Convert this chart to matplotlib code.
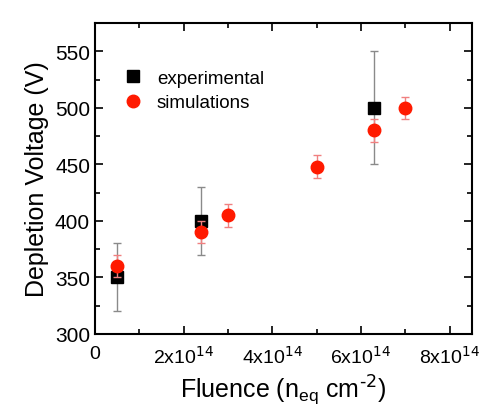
import matplotlib
matplotlib.use("Agg")
import matplotlib.pyplot as plt
from matplotlib.lines import Line2D
from matplotlib.ticker import MultipleLocator, FuncFormatter

plt.rcParams['font.family'] = ['Liberation Sans', 'DejaVu Sans']

# datos
fluencia_exp = [0.5e14, 2.4e14, 6.3e14]
voltaje_exp = [350, 400, 500]
error_exp = [30, 30, 50]

fluencia_sim = [0.5e14, 2.4e14, 3.0e14, 5.0e14, 6.3e14, 7.0e14]
voltaje_sim = [360, 390, 405, 448, 480, 500]
error_sim = [10, 10, 10, 10, 10, 10]

fig = plt.figure(figsize=(4.92, 4.14), dpi=100)
ax = fig.add_axes([0.193, 0.191, 0.766, 0.751])

ax.errorbar(fluencia_exp, voltaje_exp, yerr=error_exp, fmt='s', color='black',
            ms=8, ecolor='#8a8a8a', elinewidth=1, capsize=3, zorder=3)
ax.errorbar(fluencia_sim, voltaje_sim, yerr=error_sim, fmt='o', color='#ff1a00',
            ms=9, ecolor='#f08080', elinewidth=1, capsize=3, zorder=4)

ax.set_xlim(0, 8.5e14)
ax.set_ylim(300, 575)
ax.xaxis.set_major_locator(MultipleLocator(2e14))
ax.xaxis.set_minor_locator(MultipleLocator(1e14))
ax.yaxis.set_major_locator(MultipleLocator(50))
ax.yaxis.set_minor_locator(MultipleLocator(25))

def formato_x(v, pos):
    if abs(v) < 1:
        return "0"
    return r"%dx10$^{14}$" % round(v / 1e14)

ax.xaxis.set_major_formatter(FuncFormatter(formato_x))
ax.tick_params(which='both', direction='in', top=True, right=True, width=1.2)
ax.tick_params(which='major', length=6)
ax.tick_params(which='minor', length=3.5)
ax.tick_params(axis='y', labelsize=15)
ax.tick_params(axis='x', labelsize=14, pad=8)
for s in ax.spines.values():
    s.set_linewidth(1.5)

ax.set_xlabel(r"Fluence (n$_{\mathregular{eq}}$ cm$^{\text{-2}}$)", fontsize=18)
ax.set_ylabel("Depletion Voltage (V)", fontsize=18)

# leyenda solo con marcadores
manejadores = [
    Line2D([], [], marker='s', color='black', ls='none', ms=8),
    Line2D([], [], marker='o', color='#ff1a00', ls='none', ms=9),
]
ax.legend(manejadores, ['experimental', 'simulations'], loc='upper left',
          bbox_to_anchor=(0.05, 0.875), frameon=False, fontsize=13.5,
          handletextpad=0.7, labelspacing=0.4, borderaxespad=0, handlelength=1.2)

fig.savefig("out.png", dpi=100)
